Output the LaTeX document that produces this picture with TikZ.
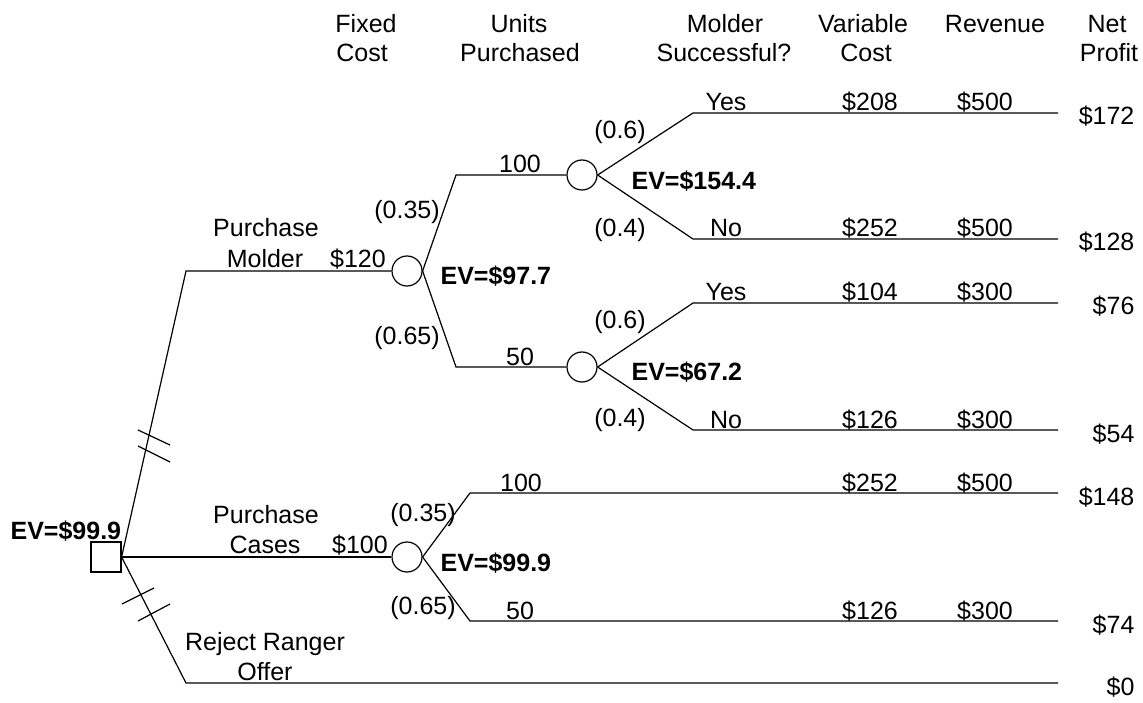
\documentclass[tikz,border=0pt]{standalone}
\usepackage{fontspec}
\setmainfont{Liberation Sans}
\begin{document}
\begin{tikzpicture}[x=1pt,y=-1pt,line width=1.2pt,
  txt/.style={font=\fontsize{25}{29}\selectfont,inner sep=0pt,anchor=base},
  prob/.style={font=\fontsize{25}{29}\selectfont,inner sep=0pt,anchor=center},
  payoff/.style={font=\fontsize{25}{29}\selectfont,inner sep=0pt,anchor=base east},
  ev/.style={font=\fontsize{25}{29}\selectfont\bfseries,inner sep=0pt,anchor=base west},
  chance/.style={circle,draw,fill=white,minimum size=30pt,inner sep=0pt},
  decision/.style={rectangle,draw,fill=white,minimum size=30pt,inner sep=0pt}]
\useasboundingbox (0,0) rectangle (1143,703);

% column headings
\node[txt] (hfix1) at (366,33) {Fixed};
\node[txt] (hfix2) at (362,62) {Cost};
\node[txt] (hun1) at (519,33) {Units};
\node[txt] (hun2) at (520,62) {Purchased};
\node[txt] (hms1) at (725,33) {Molder};
\node[txt] (hms2) at (724,62) {Successful?};
\node[txt] (hvc1) at (863,33) {Variable};
\node[txt] (hvc2) at (866,62) {Cost};
\node[txt] (hrev) at (995,33) {Revenue};
\node[txt] (hnp1) at (1107,33) {Net};
\node[txt] (hnp2) at (1109,62) {Profit};

% decision and chance nodes
\node[decision] (d) at (106,557) {};
\node[chance] (c1) at (407,271) {};
\node[chance] (c2) at (582,175) {};
\node[chance] (c3) at (582,367) {};
\node[chance] (c4) at (407,557) {};

% branch corners and ends
\coordinate (k1) at (186,271);
\coordinate (k3) at (186,683);
\coordinate (e3) at (1058,683);
\coordinate (k11) at (456,175);
\coordinate (k12) at (456,367);
\coordinate (k21) at (693,113);
\coordinate (e21) at (1058,113);
\coordinate (k22) at (693,239);
\coordinate (e22) at (1058,239);
\coordinate (k31) at (693,303);
\coordinate (e31) at (1058,303);
\coordinate (k32) at (693,430);
\coordinate (e32) at (1058,430);
\coordinate (k41) at (470,493);
\coordinate (e41) at (1058,493);
\coordinate (k42) at (470,621);
\coordinate (e42) at (1058,621);

% branches
\draw (d.east) -- (k1) -- (c1.west);
\draw (d.east) -- (c4.west);
\draw (d.east) -- (k3) -- (e3);
\draw (c1.east) -- (k11) -- (c2.west);
\draw (c1.east) -- (k12) -- (c3.west);
\draw (c2.east) -- (k21) -- (e21);
\draw (c2.east) -- (k22) -- (e22);
\draw (c3.east) -- (k31) -- (e31);
\draw (c3.east) -- (k32) -- (e32);
\draw (c4.east) -- (k41) -- (e41);
\draw (c4.east) -- (k42) -- (e42);

% blocked-branch marks
\draw (138,430) -- (170,445);
\draw (138,446) -- (170,462);
\draw (122,604) -- (154,588);
\draw (138,621) -- (170,604);

% decision branch labels
\node[txt] (lpm1) at (266,237) {Purchase};
\node[txt] (lpm2) at (265,268) {Molder};
\node[txt] (fc1) at (358,268) {\$120};
\node[txt] (lpc1) at (266,523) {Purchase};
\node[txt] (lpc2) at (265,553) {Cases};
\node[txt] (fc2) at (360,553) {\$100};
\node[txt] (lrr1) at (265,650) {Reject Ranger};
\node[txt] (lrr2) at (265,680) {Offer};
\node[ev] (evd) at (10,539) {EV=\$99.9};

% molder purchase: units
\node[prob] (p11) at (407,212) {(0.35)};
\node[prob] (p12) at (407,338) {(0.65)};
\node[txt] (u11) at (520,173) {100};
\node[txt] (u12) at (520,365) {50};
\node[ev] (ev1) at (440,285) {EV=\$97.7};

% molder success, 100 units
\node[prob] (p21) at (620,132) {(0.6)};
\node[prob] (p22) at (620,230) {(0.4)};
\node[ev] (ev2) at (631,190) {EV=\$154.4};
\node[txt] (y21) at (726,111) {Yes};
\node[txt] (y22) at (726,237) {No};
\node[txt] (v21) at (870,111) {\$208};
\node[txt] (v22) at (870,237) {\$252};
\node[txt] (r21) at (985,111) {\$500};
\node[txt] (r22) at (985,237) {\$500};
\node[payoff] (n21) at (1135,125) {\$172};
\node[payoff] (n22) at (1135,251) {\$128};

% molder success, 50 units
\node[prob] (p31) at (620,322) {(0.6)};
\node[prob] (p32) at (620,420) {(0.4)};
\node[ev] (ev3) at (631,380) {EV=\$67.2};
\node[txt] (y31) at (726,301) {Yes};
\node[txt] (y32) at (726,428) {No};
\node[txt] (v31) at (870,301) {\$104};
\node[txt] (v32) at (870,428) {\$126};
\node[txt] (r31) at (985,301) {\$300};
\node[txt] (r32) at (985,428) {\$300};
\node[payoff] (n31) at (1135,315) {\$76};
\node[payoff] (n32) at (1135,442) {\$54};

% case purchase: units
\node[prob] (p41) at (423,515) {(0.35)};
\node[prob] (p42) at (423,608) {(0.65)};
\node[ev] (ev4) at (440,571) {EV=\$99.9};
\node[txt] (u41) at (521,491) {100};
\node[txt] (u42) at (520,619) {50};
\node[txt] (v41) at (870,491) {\$252};
\node[txt] (v42) at (870,619) {\$126};
\node[txt] (r41) at (985,491) {\$500};
\node[txt] (r42) at (985,619) {\$300};
\node[payoff] (n41) at (1135,505) {\$148};
\node[payoff] (n42) at (1135,633) {\$74};
\node[payoff] (n5) at (1135,695) {\$0};
\end{tikzpicture}
\end{document}
